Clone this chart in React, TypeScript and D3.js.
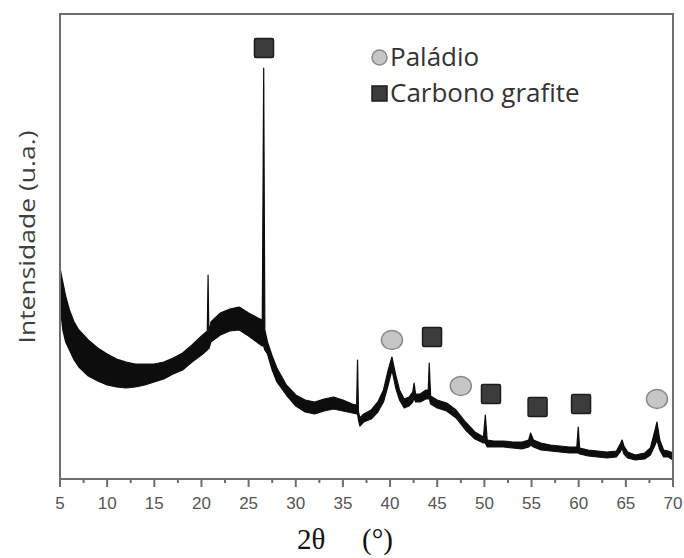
import React from "react";
import * as d3 from "d3";

// Diffractogram: 2θ positions with the upper and lower edges of the noisy trace (a.u.)
const twoTheta = [
  5.0, 5.3, 5.6, 6.0, 6.5, 7.0, 8.0, 9.0, 10.0, 11.0, 12.0, 13.0, 14.0, 15.0, 16.0, 17.0, 18.0, 19.0, 20.0,
  20.62, 20.7, 20.78, 21.0, 22.0, 23.0, 24.0, 25.0, 26.0, 26.45, 26.6, 26.72, 27.0, 27.5, 28.0, 29.0, 30.0,
  31.0, 32.0, 33.0, 34.0, 35.0, 36.0, 36.45, 36.55, 36.65, 36.8, 37.2, 38.0, 38.7, 39.3, 39.8, 40.2, 40.6,
  41.0, 41.5, 42.0, 42.4, 42.55, 42.7, 43.2, 43.8, 44.05, 44.15, 44.3, 45.0, 46.0, 47.0, 48.0, 49.0, 49.9,
  50.1, 50.3, 51.0, 52.0, 53.0, 54.0, 54.7, 54.9, 55.2, 56.0, 57.0, 58.0, 59.0, 59.8, 59.95, 60.1, 61.0,
  62.0, 63.0, 64.0, 64.4, 64.6, 64.8, 65.2, 66.0, 67.0, 67.6, 68.1, 68.3, 68.6, 69.0, 69.5, 70.0,
];
const upper = [
  211, 197, 183, 169, 157, 149, 139, 131, 125, 120, 117, 115, 115, 115, 117, 121, 126, 134, 143,
  148, 204, 146, 157, 166, 170, 172, 166, 161, 159, 411, 149, 137, 123, 111, 94, 84,
  79, 77, 80, 82, 79, 75, 74, 119, 67, 61, 65, 69, 77, 89, 109, 122, 104,
  89, 80, 82, 87, 96, 85, 85, 89, 89, 116, 83, 79, 76, 69, 57, 47, 42,
  64, 39, 38, 38, 37, 37, 39, 46, 39, 36, 34, 33, 32, 32, 52, 31, 29,
  28, 27, 28, 35, 39, 33, 27, 24, 26, 31, 49, 57, 39, 29, 28, 26,
];
const lower = [
  174, 149, 137, 129, 119, 112, 103, 98, 94, 92, 91, 92, 94, 97, 100, 105, 109, 117, 124,
  129, 131, 130, 137, 144, 148, 149, 143, 136, 133, 133, 129, 125, 109, 97, 84, 73,
  67, 65, 68, 70, 68, 66, 65, 65, 59, 53, 57, 60, 67, 77, 94, 109, 91,
  79, 71, 73, 77, 81, 77, 77, 80, 80, 81, 75, 71, 68, 61, 49, 40, 36,
  36, 32, 32, 32, 31, 30, 32, 34, 32, 29, 28, 27, 26, 26, 26, 25, 23,
  22, 21, 22, 27, 31, 25, 21, 19, 20, 24, 34, 39, 29, 22, 22, 19,
];

// Phase markers (2θ, intensity)
const paladioTheta = [40.2, 47.5, 68.3];
const paladioI = [139, 93, 80];
const grafiteTheta = [26.63, 44.45, 50.7, 55.64, 60.25];
const grafiteI = [431, 142, 85, 72, 75];

const xTicks = [5, 10, 15, 20, 25, 30, 35, 40, 45, 50, 55, 60, 65, 70];
const xMinorTicks = d3.range(7.5, 70, 5);

const W = 684;
const H = 558;
const left = 60;
const right = 673;
const top = 14;
const bottom = 479;

export default function App() {
  const x = d3.scaleLinear().domain([5, 70]).range([left, right]);
  const y = d3.scaleLinear().domain([0, 465]).range([bottom, top]);

  const pts = twoTheta.map((t, i) => ({ t, hi: upper[i], lo: lower[i] }));
  const area = d3
    .area<{ t: number; hi: number; lo: number }>()
    .x((d) => x(d.t))
    .y0((d) => y(d.lo))
    .y1((d) => y(d.hi));

  const frame = "#6e6e6e";
  const sq = 19;

  return (
    <svg
      width={W}
      height={H}
      style={{ position: "absolute", left: 0, top: 0, background: "#fff" }}
    >
      <defs>
        <filter id="soft" x="-5%" y="-5%" width="110%" height="110%">
          <feGaussianBlur stdDeviation={0.6} />
        </filter>
      </defs>

      {/* trace */}
      <path
        d={area(pts) ?? ""}
        fill="#111"
        stroke="#111"
        strokeWidth={1.2}
        strokeLinejoin="round"
        filter="url(#soft)"
      />

      {/* frame */}
      <rect
        x={left}
        y={top}
        width={right - left}
        height={bottom - top}
        fill="none"
        stroke={frame}
        strokeWidth={2}
      />

      {/* x ticks */}
      {xTicks.map((t) => (
        <g key={"M" + t}>
          <line x1={x(t)} x2={x(t)} y1={bottom} y2={bottom + 8} stroke={frame} strokeWidth={2} />
          <text
            x={x(t)}
            y={509}
            textAnchor="middle"
            fontFamily="'Liberation Sans', Arial, sans-serif"
            fontSize={17}
            fill="#555"
          >
            {t}
          </text>
        </g>
      ))}
      {xMinorTicks.map((t) => (
        <line key={"m" + t} x1={x(t)} x2={x(t)} y1={bottom} y2={bottom + 4} stroke={frame} strokeWidth={2} />
      ))}

      {/* markers */}
      {paladioTheta.map((t, i) => (
        <ellipse
          key={"p" + i}
          cx={x(t)}
          cy={y(paladioI[i])}
          rx={10.5}
          ry={9.5}
          fill="#c6c6c6"
          stroke="#8a8a8a"
          strokeWidth={1.5}
        />
      ))}
      {grafiteTheta.map((t, i) => (
        <rect
          key={"g" + i}
          x={x(t) - sq / 2}
          y={y(grafiteI[i]) - sq / 2}
          width={sq}
          height={sq}
          rx={1.5}
          fill="#3c3c3c"
          stroke="#1c1c1c"
          strokeWidth={1.5}
        />
      ))}

      {/* legend */}
      <circle cx={379.5} cy={57.5} r={7.5} fill="#c6c6c6" stroke="#8a8a8a" strokeWidth={1.5} />
      <text x={390} y={66} fontFamily="'Open Sans', sans-serif" fontSize={26} fill="#333">
        Paládio
      </text>
      <rect x={372} y={86} width={15} height={15} fill="#3c3c3c" stroke="#1c1c1c" strokeWidth={1.5} />
      <text x={390} y={102} fontFamily="'Open Sans', sans-serif" fontSize={26} fill="#333">
        Carbono grafite
      </text>

      {/* axis titles */}
      <text
        transform="translate(35,237) rotate(-90)"
        textAnchor="middle"
        fontFamily="'Open Sans', sans-serif"
        fontSize={22}
        textLength={213}
        lengthAdjust="spacingAndGlyphs"
        fill="#404040"
      >
        Intensidade (u.a.)
      </text>
      <text y={549} fontFamily="'Liberation Serif', 'Times New Roman', serif" fontSize={29} fill="#111">
        <tspan x={297}>2θ</tspan>
        <tspan x={362}>(°)</tspan>
      </text>
    </svg>
  );
}
